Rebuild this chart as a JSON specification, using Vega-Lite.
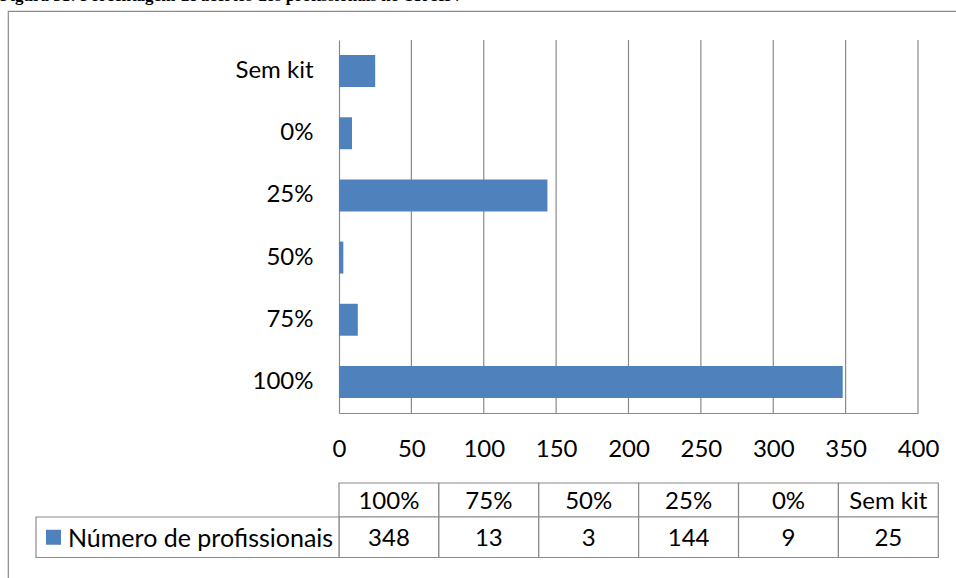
{
  "$schema": "https://vega.github.io/schema/vega-lite/v6.json",
  "width": 960,
  "height": 575,
  "autosize": {"type": "none"},
  "padding": {"left": 8, "top": 11, "right": -12, "bottom": -8},
  "background": "white",
  "title": {
    "text": "Figura 31: Porcentagem de acertos dos profissionais no TR HIV",
    "anchor": "start",
    "frame": "group",
    "font": "Liberation Serif",
    "fontSize": 17,
    "fontWeight": "bold",
    "color": "black",
    "baseline": "alphabetic",
    "offset": 4,
    "dx": -8,
    "dy": 11
  },
  "config": {
    "view": {"stroke": "#8a8a8a", "strokeWidth": 1.2},
    "font": "Lato",
    "text": {"font": "Lato", "fontSize": 24, "color": "black"}
  },
  "data": {
    "values": [
      {"categoria": "100%", "n": 348},
      {"categoria": "75%", "n": 13},
      {"categoria": "50%", "n": 3},
      {"categoria": "25%", "n": 144},
      {"categoria": "0%", "n": 9},
      {"categoria": "Sem kit", "n": 25}
    ]
  },
  "layer": [
    {
      "data": {"values": [{"v": 50}, {"v": 100}, {"v": 150}, {"v": 200}, {"v": 250}, {"v": 300}, {"v": 350}, {"v": 400}]},
      "mark": {"type": "rule", "color": "#8a8a8a", "strokeWidth": 1.2},
      "encoding": {
        "x": {
          "field": "v",
          "type": "quantitative",
          "scale": {"domain": [0, 400], "range": [331, 910], "nice": false},
          "axis": null
        },
        "y": {
          "datum": 0,
          "type": "quantitative",
          "scale": {"domain": [0, 1], "range": [29, 402], "nice": false, "zero": false},
          "axis": null
        },
        "y2": {"datum": 1}
      }
    },
    {
      "mark": {"type": "bar", "color": "#4F81BD"},
      "encoding": {
        "y": {
          "field": "categoria",
          "type": "nominal",
          "sort": ["Sem kit", "0%", "25%", "50%", "75%", "100%"],
          "scale": {"range": [29, 402], "paddingInner": 0.486, "paddingOuter": 0.243},
          "axis": {
            "title": null,
            "orient": "left",
            "offset": -331,
            "domainColor": "#8a8a8a",
            "domainWidth": 1.2,
            "ticks": false,
            "tickSize": 0,
            "grid": false,
            "labelPadding": 26,
            "labelFont": "Lato",
            "labelFontSize": 24,
            "labelColor": "black"
          }
        },
        "x": {
          "field": "n",
          "type": "quantitative",
          "scale": {"domain": [0, 400], "range": [331, 910], "nice": false},
          "axis": {
            "title": null,
            "orient": "bottom",
            "offset": -173,
            "values": [0, 50, 100, 150, 200, 250, 300, 350, 400],
            "grid": false,
            "domainColor": "#8a8a8a",
            "domainWidth": 1.2,
            "ticks": false,
            "tickSize": 0,
            "labelFlush": false,
            "labelBaseline": "middle",
            "labelPadding": 36,
            "labelFont": "Lato",
            "labelFontSize": 24,
            "labelColor": "black"
          }
        }
      }
    },
    {
      "mark": {"type": "rect", "fill": "white", "stroke": "#8a8a8a", "strokeWidth": 1.2},
      "encoding": {
        "x": {
          "field": "categoria",
          "type": "nominal",
          "sort": ["100%", "75%", "50%", "25%", "0%", "Sem kit"],
          "scale": {"range": [331, 930.3], "paddingInner": 0, "paddingOuter": 0},
          "axis": null
        },
        "y": {
          "datum": "cabeçalho",
          "type": "nominal",
          "scale": {"domain": ["cabeçalho"], "range": [472, 506], "paddingInner": 0, "paddingOuter": 0},
          "axis": null
        }
      }
    },
    {
      "mark": {"type": "text", "dy": 2},
      "encoding": {
        "x": {
          "field": "categoria",
          "type": "nominal",
          "sort": ["100%", "75%", "50%", "25%", "0%", "Sem kit"],
          "scale": {"range": [331, 930.3], "paddingInner": 0, "paddingOuter": 0},
          "axis": null
        },
        "y": {
          "datum": "cabeçalho",
          "type": "nominal",
          "scale": {"domain": ["cabeçalho"], "range": [472, 506], "paddingInner": 0, "paddingOuter": 0},
          "axis": null
        },
        "text": {"field": "categoria"}
      }
    },
    {
      "mark": {"type": "rect", "fill": "white", "stroke": "#8a8a8a", "strokeWidth": 1.2},
      "encoding": {
        "x": {
          "field": "categoria",
          "type": "nominal",
          "sort": ["100%", "75%", "50%", "25%", "0%", "Sem kit"],
          "scale": {"range": [331, 930.3], "paddingInner": 0, "paddingOuter": 0},
          "axis": null
        },
        "y": {
          "datum": "valor",
          "type": "nominal",
          "scale": {"domain": ["valor"], "range": [506, 546.5], "paddingInner": 0, "paddingOuter": 0},
          "axis": null
        }
      }
    },
    {
      "mark": {"type": "text", "dy": 2},
      "encoding": {
        "x": {
          "field": "categoria",
          "type": "nominal",
          "sort": ["100%", "75%", "50%", "25%", "0%", "Sem kit"],
          "scale": {"range": [331, 930.3], "paddingInner": 0, "paddingOuter": 0},
          "axis": null
        },
        "y": {
          "datum": "valor",
          "type": "nominal",
          "scale": {"domain": ["valor"], "range": [506, 546.5], "paddingInner": 0, "paddingOuter": 0},
          "axis": null
        },
        "text": {"field": "n", "type": "quantitative"}
      }
    },
    {
      "data": {"values": [{"serie": "Número de profissionais"}]},
      "mark": {"type": "rect", "fill": "white", "stroke": "#8a8a8a", "strokeWidth": 1.2},
      "encoding": {
        "x": {
          "field": "serie",
          "type": "nominal",
          "scale": {"range": [28, 331], "paddingInner": 0, "paddingOuter": 0},
          "axis": null
        },
        "y": {
          "datum": "valor",
          "type": "nominal",
          "scale": {"domain": ["valor"], "range": [506, 546.5], "paddingInner": 0, "paddingOuter": 0},
          "axis": null
        }
      }
    },
    {
      "data": {"values": [{"serie": "Número de profissionais"}]},
      "mark": {"type": "text", "align": "left", "dy": 2, "fontSize": 25},
      "encoding": {
        "x": {
          "field": "serie",
          "type": "nominal",
          "scale": {"range": [59.5, 60.5], "paddingInner": 0, "paddingOuter": 0},
          "axis": null
        },
        "y": {
          "datum": "valor",
          "type": "nominal",
          "scale": {"domain": ["valor"], "range": [506, 546.5], "paddingInner": 0, "paddingOuter": 0},
          "axis": null
        },
        "text": {"field": "serie"}
      }
    },
    {
      "data": {"values": [{"serie": "Número de profissionais"}]},
      "mark": {"type": "point", "shape": "square", "filled": true, "color": "#4F81BD", "size": 225, "opacity": 1},
      "encoding": {
        "x": {
          "field": "serie",
          "type": "nominal",
          "scale": {"range": [38, 53], "paddingInner": 0, "paddingOuter": 0},
          "axis": null
        },
        "y": {
          "datum": "valor",
          "type": "nominal",
          "scale": {"domain": ["valor"], "range": [506, 546.5], "paddingInner": 0, "paddingOuter": 0},
          "axis": null
        }
      }
    }
  ],
  "resolve": {
    "scale": {"x": "independent", "y": "independent"},
    "axis": {"x": "independent", "y": "independent"}
  }
}
